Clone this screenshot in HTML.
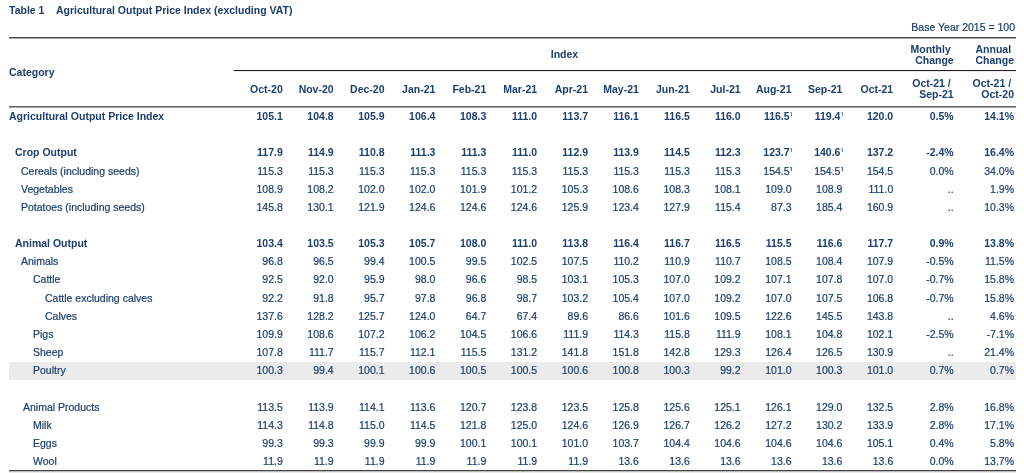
<!DOCTYPE html>
<html><head><meta charset="utf-8"><title>Table 1 Agricultural Output Price Index (excluding VAT)</title>
<style>
html,body{margin:0;padding:0;background:#fff}
body{width:1024px;height:473px;position:relative;overflow:hidden}
.t{position:absolute;font-family:"Liberation Sans",Arial,sans-serif;font-size:10.5px;line-height:12px;height:12px;white-space:nowrap;color:#1b3e6c;-webkit-text-stroke:0.2px #1b3e6c}
.b{font-weight:bold;color:#1b3e6c;-webkit-text-stroke:0}
.r{text-align:right}
.ln{position:absolute}
.sup{font-family:"Noto Sans CJK JP","Liberation Sans",sans-serif;font-size:9px;font-weight:normal;margin-left:-0.3px;margin-right:-1.5px}
</style></head>
<body>
<div class="t b" style="left:9.00px;top:4.30px">Table 1</div>
<div class="t b" style="left:56.00px;top:4.30px">Agricultural Output Price Index (excluding VAT)</div>
<div class="t r" style="right:9.00px;top:21.10px">Base Year 2015 = 100</div>
<div class="ln" style="left:9px;width:1007px;top:37px;height:1px;background:#454545"></div>
<div class="ln" style="left:9px;width:1007px;top:38px;height:1px;background:#ababab"></div>
<div class="ln" style="left:234px;width:782px;top:70px;height:1px;background:#222"></div>
<div class="ln" style="left:234px;width:782px;top:71px;height:1px;background:#ececec"></div>
<div class="ln" style="left:9px;width:1007px;top:106px;height:1px;background:#666"></div>
<div class="ln" style="left:9px;width:1007px;top:107px;height:1px;background:#a2a2a2"></div>
<div class="ln" style="left:9px;width:1007px;top:470px;height:1px;background:#444"></div>
<div class="ln" style="left:9px;width:1007px;top:471px;height:1px;background:#bbb"></div>
<div class="ln" style="left:9px;width:1007px;top:472px;height:1px;background:#ececec"></div>
<div class="t b" style="left:9.00px;top:66.00px">Category</div>
<div class="t b" style="left:234px;width:661px;text-align:center;top:48px">Index</div>
<div class="t r b" style="right:70.30px;top:42.80px">Monthly&nbsp;</div>
<div class="t r b" style="right:70.30px;top:53.60px">Change</div>
<div class="t r b" style="right:10.00px;top:42.80px">Annual&nbsp;</div>
<div class="t r b" style="right:10.00px;top:53.60px">Change</div>
<div class="t r b" style="right:741.23px;top:82.60px">Oct-20</div>
<div class="t r b" style="right:690.36px;top:82.60px">Nov-20</div>
<div class="t r b" style="right:639.49px;top:82.60px">Dec-20</div>
<div class="t r b" style="right:588.62px;top:82.60px">Jan-21</div>
<div class="t r b" style="right:537.75px;top:82.60px">Feb-21</div>
<div class="t r b" style="right:486.88px;top:82.60px">Mar-21</div>
<div class="t r b" style="right:436.01px;top:82.60px">Apr-21</div>
<div class="t r b" style="right:385.14px;top:82.60px">May-21</div>
<div class="t r b" style="right:334.27px;top:82.60px">Jun-21</div>
<div class="t r b" style="right:283.40px;top:82.60px">Jul-21</div>
<div class="t r b" style="right:232.53px;top:82.60px">Aug-21</div>
<div class="t r b" style="right:181.66px;top:82.60px">Sep-21</div>
<div class="t r b" style="right:130.79px;top:82.60px">Oct-21</div>
<div class="t r b" style="right:70.30px;top:76.80px">Oct-21 /&nbsp;</div>
<div class="t r b" style="right:70.30px;top:87.80px">Sep-21</div>
<div class="t r b" style="right:10.00px;top:76.80px">Oct-21 /&nbsp;</div>
<div class="t r b" style="right:10.00px;top:87.80px">Oct-20</div>
<div class="t b" style="left:9.00px;top:110.10px">Agricultural Output Price Index</div>
<div class="t r b" style="right:741.23px;top:110.10px">105.1</div>
<div class="t r b" style="right:690.36px;top:110.10px">104.8</div>
<div class="t r b" style="right:639.49px;top:110.10px">105.9</div>
<div class="t r b" style="right:588.62px;top:110.10px">106.4</div>
<div class="t r b" style="right:537.75px;top:110.10px">108.3</div>
<div class="t r b" style="right:486.88px;top:110.10px">111.0</div>
<div class="t r b" style="right:436.01px;top:110.10px">113.7</div>
<div class="t r b" style="right:385.14px;top:110.10px">116.1</div>
<div class="t r b" style="right:334.27px;top:110.10px">116.5</div>
<div class="t r b" style="right:283.40px;top:110.10px">116.0</div>
<div class="t r b" style="right:232.53px;top:110.10px">116.5<span class="sup">¹</span></div>
<div class="t r b" style="right:181.66px;top:110.10px">119.4<span class="sup">¹</span></div>
<div class="t r b" style="right:130.79px;top:110.10px">120.0</div>
<div class="t r b" style="right:70.30px;top:110.10px">0.5%</div>
<div class="t r b" style="right:10.00px;top:110.10px">14.1%</div>
<div class="t b" style="left:15.00px;top:146.40px">Crop Output</div>
<div class="t r b" style="right:741.23px;top:146.40px">117.9</div>
<div class="t r b" style="right:690.36px;top:146.40px">114.9</div>
<div class="t r b" style="right:639.49px;top:146.40px">110.8</div>
<div class="t r b" style="right:588.62px;top:146.40px">111.3</div>
<div class="t r b" style="right:537.75px;top:146.40px">111.3</div>
<div class="t r b" style="right:486.88px;top:146.40px">111.0</div>
<div class="t r b" style="right:436.01px;top:146.40px">112.9</div>
<div class="t r b" style="right:385.14px;top:146.40px">113.9</div>
<div class="t r b" style="right:334.27px;top:146.40px">114.5</div>
<div class="t r b" style="right:283.40px;top:146.40px">112.3</div>
<div class="t r b" style="right:232.53px;top:146.40px">123.7<span class="sup">¹</span></div>
<div class="t r b" style="right:181.66px;top:146.40px">140.6<span class="sup">¹</span></div>
<div class="t r b" style="right:130.79px;top:146.40px">137.2</div>
<div class="t r b" style="right:70.30px;top:146.40px">-2.4%</div>
<div class="t r b" style="right:10.00px;top:146.40px">16.4%</div>
<div class="t" style="left:21.00px;top:164.55px">Cereals (including seeds)</div>
<div class="t r" style="right:741.23px;top:164.55px">115.3</div>
<div class="t r" style="right:690.36px;top:164.55px">115.3</div>
<div class="t r" style="right:639.49px;top:164.55px">115.3</div>
<div class="t r" style="right:588.62px;top:164.55px">115.3</div>
<div class="t r" style="right:537.75px;top:164.55px">115.3</div>
<div class="t r" style="right:486.88px;top:164.55px">115.3</div>
<div class="t r" style="right:436.01px;top:164.55px">115.3</div>
<div class="t r" style="right:385.14px;top:164.55px">115.3</div>
<div class="t r" style="right:334.27px;top:164.55px">115.3</div>
<div class="t r" style="right:283.40px;top:164.55px">115.3</div>
<div class="t r" style="right:232.53px;top:164.55px">154.5<span class="sup">¹</span></div>
<div class="t r" style="right:181.66px;top:164.55px">154.5<span class="sup">¹</span></div>
<div class="t r" style="right:130.79px;top:164.55px">154.5</div>
<div class="t r" style="right:70.30px;top:164.55px">0.0%</div>
<div class="t r" style="right:10.00px;top:164.55px">34.0%</div>
<div class="t" style="left:21.00px;top:182.70px">Vegetables</div>
<div class="t r" style="right:741.23px;top:182.70px">108.9</div>
<div class="t r" style="right:690.36px;top:182.70px">108.2</div>
<div class="t r" style="right:639.49px;top:182.70px">102.0</div>
<div class="t r" style="right:588.62px;top:182.70px">102.0</div>
<div class="t r" style="right:537.75px;top:182.70px">101.9</div>
<div class="t r" style="right:486.88px;top:182.70px">101.2</div>
<div class="t r" style="right:436.01px;top:182.70px">105.3</div>
<div class="t r" style="right:385.14px;top:182.70px">108.6</div>
<div class="t r" style="right:334.27px;top:182.70px">108.3</div>
<div class="t r" style="right:283.40px;top:182.70px">108.1</div>
<div class="t r" style="right:232.53px;top:182.70px">109.0</div>
<div class="t r" style="right:181.66px;top:182.70px">108.9</div>
<div class="t r" style="right:130.79px;top:182.70px">111.0</div>
<div class="t r" style="right:70.30px;top:182.70px">..</div>
<div class="t r" style="right:10.00px;top:182.70px">1.9%</div>
<div class="t" style="left:21.00px;top:200.85px">Potatoes (including seeds)</div>
<div class="t r" style="right:741.23px;top:200.85px">145.8</div>
<div class="t r" style="right:690.36px;top:200.85px">130.1</div>
<div class="t r" style="right:639.49px;top:200.85px">121.9</div>
<div class="t r" style="right:588.62px;top:200.85px">124.6</div>
<div class="t r" style="right:537.75px;top:200.85px">124.6</div>
<div class="t r" style="right:486.88px;top:200.85px">124.6</div>
<div class="t r" style="right:436.01px;top:200.85px">125.9</div>
<div class="t r" style="right:385.14px;top:200.85px">123.4</div>
<div class="t r" style="right:334.27px;top:200.85px">127.9</div>
<div class="t r" style="right:283.40px;top:200.85px">115.4</div>
<div class="t r" style="right:232.53px;top:200.85px">87.3</div>
<div class="t r" style="right:181.66px;top:200.85px">185.4</div>
<div class="t r" style="right:130.79px;top:200.85px">160.9</div>
<div class="t r" style="right:70.30px;top:200.85px">..</div>
<div class="t r" style="right:10.00px;top:200.85px">10.3%</div>
<div class="t b" style="left:15.00px;top:237.15px">Animal Output</div>
<div class="t r b" style="right:741.23px;top:237.15px">103.4</div>
<div class="t r b" style="right:690.36px;top:237.15px">103.5</div>
<div class="t r b" style="right:639.49px;top:237.15px">105.3</div>
<div class="t r b" style="right:588.62px;top:237.15px">105.7</div>
<div class="t r b" style="right:537.75px;top:237.15px">108.0</div>
<div class="t r b" style="right:486.88px;top:237.15px">111.0</div>
<div class="t r b" style="right:436.01px;top:237.15px">113.8</div>
<div class="t r b" style="right:385.14px;top:237.15px">116.4</div>
<div class="t r b" style="right:334.27px;top:237.15px">116.7</div>
<div class="t r b" style="right:283.40px;top:237.15px">116.5</div>
<div class="t r b" style="right:232.53px;top:237.15px">115.5</div>
<div class="t r b" style="right:181.66px;top:237.15px">116.6</div>
<div class="t r b" style="right:130.79px;top:237.15px">117.7</div>
<div class="t r b" style="right:70.30px;top:237.15px">0.9%</div>
<div class="t r b" style="right:10.00px;top:237.15px">13.8%</div>
<div class="t" style="left:21.00px;top:255.30px">Animals</div>
<div class="t r" style="right:741.23px;top:255.30px">96.8</div>
<div class="t r" style="right:690.36px;top:255.30px">96.5</div>
<div class="t r" style="right:639.49px;top:255.30px">99.4</div>
<div class="t r" style="right:588.62px;top:255.30px">100.5</div>
<div class="t r" style="right:537.75px;top:255.30px">99.5</div>
<div class="t r" style="right:486.88px;top:255.30px">102.5</div>
<div class="t r" style="right:436.01px;top:255.30px">107.5</div>
<div class="t r" style="right:385.14px;top:255.30px">110.2</div>
<div class="t r" style="right:334.27px;top:255.30px">110.9</div>
<div class="t r" style="right:283.40px;top:255.30px">110.7</div>
<div class="t r" style="right:232.53px;top:255.30px">108.5</div>
<div class="t r" style="right:181.66px;top:255.30px">108.4</div>
<div class="t r" style="right:130.79px;top:255.30px">107.9</div>
<div class="t r" style="right:70.30px;top:255.30px">-0.5%</div>
<div class="t r" style="right:10.00px;top:255.30px">11.5%</div>
<div class="t" style="left:33.00px;top:273.45px">Cattle</div>
<div class="t r" style="right:741.23px;top:273.45px">92.5</div>
<div class="t r" style="right:690.36px;top:273.45px">92.0</div>
<div class="t r" style="right:639.49px;top:273.45px">95.9</div>
<div class="t r" style="right:588.62px;top:273.45px">98.0</div>
<div class="t r" style="right:537.75px;top:273.45px">96.6</div>
<div class="t r" style="right:486.88px;top:273.45px">98.5</div>
<div class="t r" style="right:436.01px;top:273.45px">103.1</div>
<div class="t r" style="right:385.14px;top:273.45px">105.3</div>
<div class="t r" style="right:334.27px;top:273.45px">107.0</div>
<div class="t r" style="right:283.40px;top:273.45px">109.2</div>
<div class="t r" style="right:232.53px;top:273.45px">107.1</div>
<div class="t r" style="right:181.66px;top:273.45px">107.8</div>
<div class="t r" style="right:130.79px;top:273.45px">107.0</div>
<div class="t r" style="right:70.30px;top:273.45px">-0.7%</div>
<div class="t r" style="right:10.00px;top:273.45px">15.8%</div>
<div class="t" style="left:45.00px;top:291.60px">Cattle excluding calves</div>
<div class="t r" style="right:741.23px;top:291.60px">92.2</div>
<div class="t r" style="right:690.36px;top:291.60px">91.8</div>
<div class="t r" style="right:639.49px;top:291.60px">95.7</div>
<div class="t r" style="right:588.62px;top:291.60px">97.8</div>
<div class="t r" style="right:537.75px;top:291.60px">96.8</div>
<div class="t r" style="right:486.88px;top:291.60px">98.7</div>
<div class="t r" style="right:436.01px;top:291.60px">103.2</div>
<div class="t r" style="right:385.14px;top:291.60px">105.4</div>
<div class="t r" style="right:334.27px;top:291.60px">107.0</div>
<div class="t r" style="right:283.40px;top:291.60px">109.2</div>
<div class="t r" style="right:232.53px;top:291.60px">107.0</div>
<div class="t r" style="right:181.66px;top:291.60px">107.5</div>
<div class="t r" style="right:130.79px;top:291.60px">106.8</div>
<div class="t r" style="right:70.30px;top:291.60px">-0.7%</div>
<div class="t r" style="right:10.00px;top:291.60px">15.8%</div>
<div class="t" style="left:45.00px;top:309.75px">Calves</div>
<div class="t r" style="right:741.23px;top:309.75px">137.6</div>
<div class="t r" style="right:690.36px;top:309.75px">128.2</div>
<div class="t r" style="right:639.49px;top:309.75px">125.7</div>
<div class="t r" style="right:588.62px;top:309.75px">124.0</div>
<div class="t r" style="right:537.75px;top:309.75px">64.7</div>
<div class="t r" style="right:486.88px;top:309.75px">67.4</div>
<div class="t r" style="right:436.01px;top:309.75px">89.6</div>
<div class="t r" style="right:385.14px;top:309.75px">86.6</div>
<div class="t r" style="right:334.27px;top:309.75px">101.6</div>
<div class="t r" style="right:283.40px;top:309.75px">109.5</div>
<div class="t r" style="right:232.53px;top:309.75px">122.6</div>
<div class="t r" style="right:181.66px;top:309.75px">145.5</div>
<div class="t r" style="right:130.79px;top:309.75px">143.8</div>
<div class="t r" style="right:70.30px;top:309.75px">..</div>
<div class="t r" style="right:10.00px;top:309.75px">4.6%</div>
<div class="t" style="left:33.00px;top:327.90px">Pigs</div>
<div class="t r" style="right:741.23px;top:327.90px">109.9</div>
<div class="t r" style="right:690.36px;top:327.90px">108.6</div>
<div class="t r" style="right:639.49px;top:327.90px">107.2</div>
<div class="t r" style="right:588.62px;top:327.90px">106.2</div>
<div class="t r" style="right:537.75px;top:327.90px">104.5</div>
<div class="t r" style="right:486.88px;top:327.90px">106.6</div>
<div class="t r" style="right:436.01px;top:327.90px">111.9</div>
<div class="t r" style="right:385.14px;top:327.90px">114.3</div>
<div class="t r" style="right:334.27px;top:327.90px">115.8</div>
<div class="t r" style="right:283.40px;top:327.90px">111.9</div>
<div class="t r" style="right:232.53px;top:327.90px">108.1</div>
<div class="t r" style="right:181.66px;top:327.90px">104.8</div>
<div class="t r" style="right:130.79px;top:327.90px">102.1</div>
<div class="t r" style="right:70.30px;top:327.90px">-2.5%</div>
<div class="t r" style="right:10.00px;top:327.90px">-7.1%</div>
<div class="t" style="left:33.00px;top:346.05px">Sheep</div>
<div class="t r" style="right:741.23px;top:346.05px">107.8</div>
<div class="t r" style="right:690.36px;top:346.05px">111.7</div>
<div class="t r" style="right:639.49px;top:346.05px">115.7</div>
<div class="t r" style="right:588.62px;top:346.05px">112.1</div>
<div class="t r" style="right:537.75px;top:346.05px">115.5</div>
<div class="t r" style="right:486.88px;top:346.05px">131.2</div>
<div class="t r" style="right:436.01px;top:346.05px">141.8</div>
<div class="t r" style="right:385.14px;top:346.05px">151.8</div>
<div class="t r" style="right:334.27px;top:346.05px">142.8</div>
<div class="t r" style="right:283.40px;top:346.05px">129.3</div>
<div class="t r" style="right:232.53px;top:346.05px">126.4</div>
<div class="t r" style="right:181.66px;top:346.05px">126.5</div>
<div class="t r" style="right:130.79px;top:346.05px">130.9</div>
<div class="t r" style="right:70.30px;top:346.05px">..</div>
<div class="t r" style="right:10.00px;top:346.05px">21.4%</div>
<div class="ln" style="left:9px;width:1007px;top:362px;height:18px;background:#ebebeb"></div>
<div class="t" style="left:33.00px;top:364.20px">Poultry</div>
<div class="t r" style="right:741.23px;top:364.20px">100.3</div>
<div class="t r" style="right:690.36px;top:364.20px">99.4</div>
<div class="t r" style="right:639.49px;top:364.20px">100.1</div>
<div class="t r" style="right:588.62px;top:364.20px">100.6</div>
<div class="t r" style="right:537.75px;top:364.20px">100.5</div>
<div class="t r" style="right:486.88px;top:364.20px">100.5</div>
<div class="t r" style="right:436.01px;top:364.20px">100.6</div>
<div class="t r" style="right:385.14px;top:364.20px">100.8</div>
<div class="t r" style="right:334.27px;top:364.20px">100.3</div>
<div class="t r" style="right:283.40px;top:364.20px">99.2</div>
<div class="t r" style="right:232.53px;top:364.20px">101.0</div>
<div class="t r" style="right:181.66px;top:364.20px">100.3</div>
<div class="t r" style="right:130.79px;top:364.20px">101.0</div>
<div class="t r" style="right:70.30px;top:364.20px">0.7%</div>
<div class="t r" style="right:10.00px;top:364.20px">0.7%</div>
<div class="t" style="left:23.00px;top:400.50px">Animal Products</div>
<div class="t r" style="right:741.23px;top:400.50px">113.5</div>
<div class="t r" style="right:690.36px;top:400.50px">113.9</div>
<div class="t r" style="right:639.49px;top:400.50px">114.1</div>
<div class="t r" style="right:588.62px;top:400.50px">113.6</div>
<div class="t r" style="right:537.75px;top:400.50px">120.7</div>
<div class="t r" style="right:486.88px;top:400.50px">123.8</div>
<div class="t r" style="right:436.01px;top:400.50px">123.5</div>
<div class="t r" style="right:385.14px;top:400.50px">125.8</div>
<div class="t r" style="right:334.27px;top:400.50px">125.6</div>
<div class="t r" style="right:283.40px;top:400.50px">125.1</div>
<div class="t r" style="right:232.53px;top:400.50px">126.1</div>
<div class="t r" style="right:181.66px;top:400.50px">129.0</div>
<div class="t r" style="right:130.79px;top:400.50px">132.5</div>
<div class="t r" style="right:70.30px;top:400.50px">2.8%</div>
<div class="t r" style="right:10.00px;top:400.50px">16.8%</div>
<div class="t" style="left:33.00px;top:418.65px">Milk</div>
<div class="t r" style="right:741.23px;top:418.65px">114.3</div>
<div class="t r" style="right:690.36px;top:418.65px">114.8</div>
<div class="t r" style="right:639.49px;top:418.65px">115.0</div>
<div class="t r" style="right:588.62px;top:418.65px">114.5</div>
<div class="t r" style="right:537.75px;top:418.65px">121.8</div>
<div class="t r" style="right:486.88px;top:418.65px">125.0</div>
<div class="t r" style="right:436.01px;top:418.65px">124.6</div>
<div class="t r" style="right:385.14px;top:418.65px">126.9</div>
<div class="t r" style="right:334.27px;top:418.65px">126.7</div>
<div class="t r" style="right:283.40px;top:418.65px">126.2</div>
<div class="t r" style="right:232.53px;top:418.65px">127.2</div>
<div class="t r" style="right:181.66px;top:418.65px">130.2</div>
<div class="t r" style="right:130.79px;top:418.65px">133.9</div>
<div class="t r" style="right:70.30px;top:418.65px">2.8%</div>
<div class="t r" style="right:10.00px;top:418.65px">17.1%</div>
<div class="t" style="left:33.00px;top:436.80px">Eggs</div>
<div class="t r" style="right:741.23px;top:436.80px">99.3</div>
<div class="t r" style="right:690.36px;top:436.80px">99.3</div>
<div class="t r" style="right:639.49px;top:436.80px">99.9</div>
<div class="t r" style="right:588.62px;top:436.80px">99.9</div>
<div class="t r" style="right:537.75px;top:436.80px">100.1</div>
<div class="t r" style="right:486.88px;top:436.80px">100.1</div>
<div class="t r" style="right:436.01px;top:436.80px">101.0</div>
<div class="t r" style="right:385.14px;top:436.80px">103.7</div>
<div class="t r" style="right:334.27px;top:436.80px">104.4</div>
<div class="t r" style="right:283.40px;top:436.80px">104.6</div>
<div class="t r" style="right:232.53px;top:436.80px">104.6</div>
<div class="t r" style="right:181.66px;top:436.80px">104.6</div>
<div class="t r" style="right:130.79px;top:436.80px">105.1</div>
<div class="t r" style="right:70.30px;top:436.80px">0.4%</div>
<div class="t r" style="right:10.00px;top:436.80px">5.8%</div>
<div class="t" style="left:33.00px;top:454.95px">Wool</div>
<div class="t r" style="right:741.23px;top:454.95px">11.9</div>
<div class="t r" style="right:690.36px;top:454.95px">11.9</div>
<div class="t r" style="right:639.49px;top:454.95px">11.9</div>
<div class="t r" style="right:588.62px;top:454.95px">11.9</div>
<div class="t r" style="right:537.75px;top:454.95px">11.9</div>
<div class="t r" style="right:486.88px;top:454.95px">11.9</div>
<div class="t r" style="right:436.01px;top:454.95px">11.9</div>
<div class="t r" style="right:385.14px;top:454.95px">13.6</div>
<div class="t r" style="right:334.27px;top:454.95px">13.6</div>
<div class="t r" style="right:283.40px;top:454.95px">13.6</div>
<div class="t r" style="right:232.53px;top:454.95px">13.6</div>
<div class="t r" style="right:181.66px;top:454.95px">13.6</div>
<div class="t r" style="right:130.79px;top:454.95px">13.6</div>
<div class="t r" style="right:70.30px;top:454.95px">0.0%</div>
<div class="t r" style="right:10.00px;top:454.95px">13.7%</div>
</body></html>
